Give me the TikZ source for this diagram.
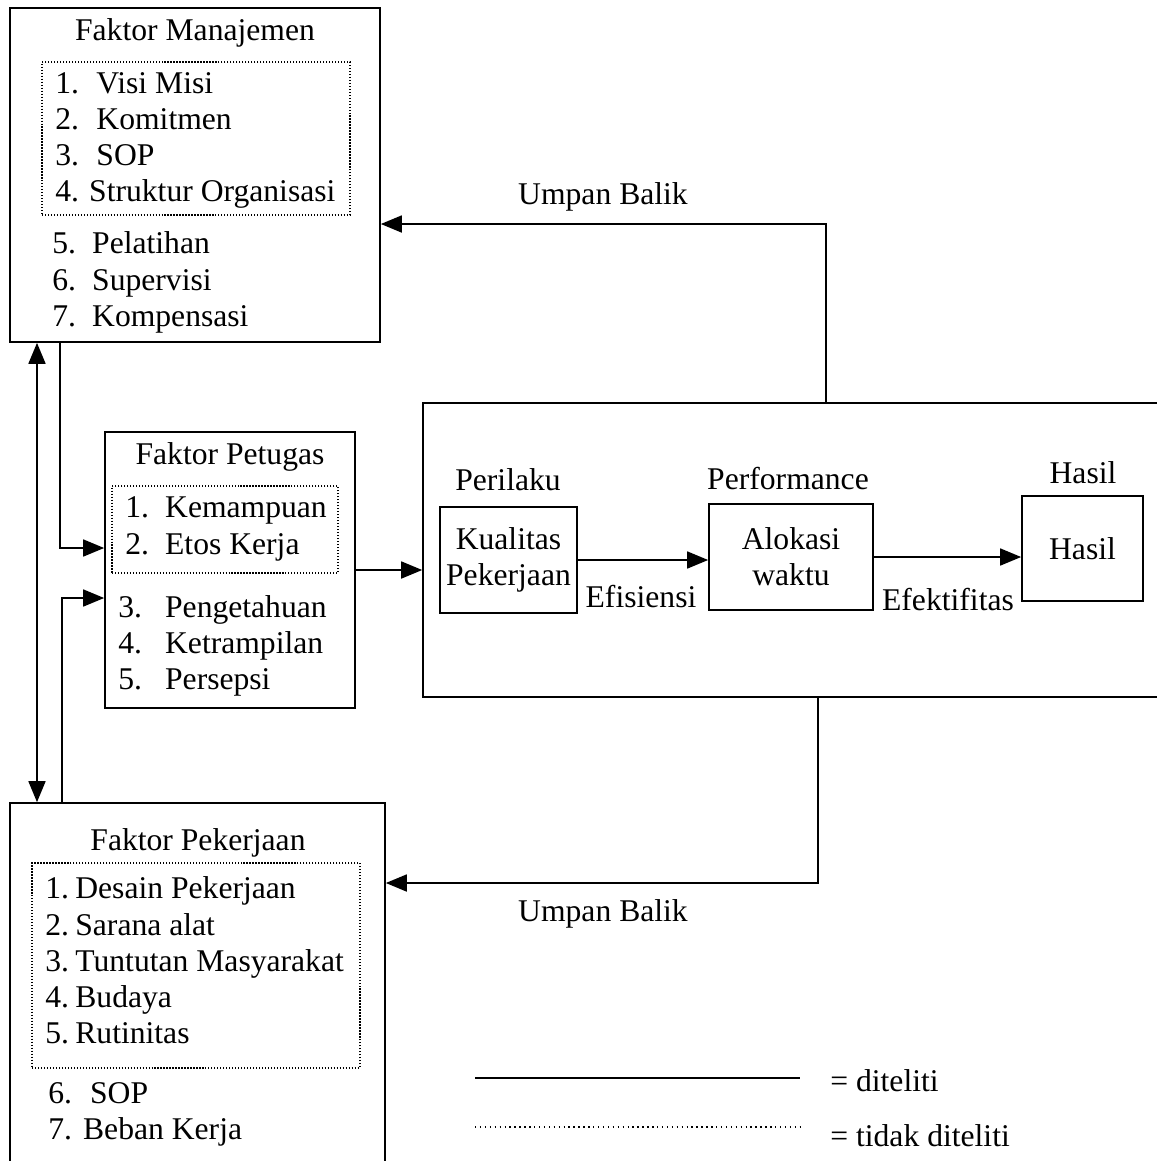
\documentclass[tikz,border=0pt]{standalone}
\usepackage{fontspec}
\setmainfont{Liberation Serif}
\usetikzlibrary{arrows.meta, positioning, calc}
\newcommand{\lnum}[2][1.3em]{\makebox[#1][l]{#2}}

\begin{document}
\begin{tikzpicture}[
  x=0.02cm, y=-0.02cm,
  font=\fontsize{18}{20.6}\selectfont,
  factor/.style={rectangle, draw, line width=1pt, inner sep=0pt},
  subgroup/.style={rectangle, draw, densely dotted, line width=0.7pt, inner sep=0pt},
  stage/.style={rectangle, draw, line width=1pt, align=center,
                minimum height=2.12cm, inner sep=2pt},
  list/.style={anchor=west, align=left, inner sep=0pt, yshift=-0.06cm},
  lbl/.style={inner sep=0pt, yshift=-0.06cm},
  arr/.style={-{Triangle[length=0.42cm, width=0.34cm]}, line width=1pt},
  dblarr/.style={{Triangle[length=0.42cm, width=0.34cm]}-{Triangle[length=0.42cm, width=0.34cm]}, line width=1pt}
]
  \clip (0,0) rectangle (1157,1161);
  \fill[white] (0,0) rectangle (1157,1161);

  % faktor manajemen
  \node[factor, minimum width=7.4cm, minimum height=6.68cm] (mgmt) at (195,175) {};
  \node[lbl] (mgmt-title) at (195,30) {Faktor Manajemen};
  \node[subgroup, minimum width=6.16cm, minimum height=3.06cm] (mgmt-sub) at (196,138.5) {};
  \node[list] (mgmt-in) at (55,137.5) {\lnum{1.}Visi Misi\\ \lnum{2.}Komitmen\\ \lnum{3.}SOP\\ \lnum[1.07em]{4.}Struktur Organisasi};
  \node[list] (mgmt-out) at (52,279.5) {\lnum[1.26em]{5.}Pelatihan\\ \lnum[1.26em]{6.}Supervisi\\ \lnum[1.26em]{7.}Kompensasi};

  % faktor petugas
  \node[factor, minimum width=5cm, minimum height=5.52cm] (pet) at (230,570) {};
  \node[lbl] (pet-title) at (230,454) {Faktor Petugas};
  \node[subgroup, minimum width=4.52cm, minimum height=1.74cm] (pet-sub) at (225,529.5) {};
  \node[list] (pet-in) at (125,526) {\lnum[1.26em]{1.}Kemampuan\\ \lnum[1.26em]{2.}Etos Kerja};
  \node[list] (pet-out) at (118,643) {\lnum[1.48em]{3.}Pengetahuan\\ \lnum[1.48em]{4.}Ketrampilan\\ \lnum[1.48em]{5.}Persepsi};

  % faktor pekerjaan
  \node[factor, minimum width=7.5cm, minimum height=7.54cm] (pek) at (197.5,991.5) {};
  \node[lbl] (pek-title) at (198,840) {Faktor Pekerjaan};
  \node[subgroup, minimum width=6.56cm, minimum height=4.1cm] (pek-sub) at (196,965.5) {};
  \node[list] (pek-in) at (45,957.5) {\lnum[0.95em]{1.}Desain Pekerjaan\\ \lnum[0.95em]{2.}Sarana alat\\ \lnum[0.95em]{3.}Tuntutan Masyarakat\\ \lnum[0.95em]{4.}Budaya\\ \lnum[0.95em]{5.}Rutinitas};
  \node[list] (pek-out) at (48,1111.5) {\lnum[1.32em]{6.}SOP\\ \lnum[1.1em]{7.}Beban Kerja};

  % proses
  \node[factor, minimum width=15.04cm, minimum height=5.88cm] (proc) at (799,550) {};
  \node[stage, minimum width=2.74cm] (kual) at (508.5,560) {Kualitas\\Pekerjaan};
  \node[stage, minimum width=3.28cm] (alok) at (791,557) {Alokasi\\waktu};
  \node[stage, minimum width=2.42cm, minimum height=2.1cm] (hasil) at (1082.5,548.5) {Hasil};
  \node[lbl] (perilaku) at (508,477) {Perilaku};
  \node[lbl] (perf) at (788,476) {Performance};
  \node[lbl] (hasil-lbl) at (1083,470) {Hasil};
  \node[lbl] (efis) at (641,594) {Efisiensi};
  \node[lbl] (efek) at (948,597) {Efektifitas};
  \node[lbl] (fb-top-lbl) at (603,194) {Umpan Balik};
  \node[lbl] (fb-bot-lbl) at (603,911) {Umpan Balik};

  \coordinate (fbtop) at (826,224);
  \coordinate (fbbot) at (818,883);
  \coordinate (m2p) at (60,548);
  \coordinate (k2p) at (62,598);
  \coordinate (link) at (37,0);

  \draw[arr] (pet.east) -- (pet.east -| proc.west);
  \draw[arr] (kual.east) -- (kual.east -| alok.west);
  \draw[arr] (alok.east) -- (alok.east -| hasil.west);
  \draw[arr] (proc.north -| fbtop) |- (mgmt.east |- fbtop);
  \draw[arr] (proc.south -| fbbot) |- (pek.east |- fbbot);
  \draw[arr] (mgmt.south -| m2p) |- (pet.west |- m2p);
  \draw[arr] (pek.north -| k2p) |- (pet.west |- k2p);
  \draw[dblarr] (mgmt.south -| link) -- (pek.north -| link);

  % keterangan
  \coordinate (key1a) at (475,1078);
  \coordinate (key1b) at (800,1078);
  \coordinate (key2a) at (475,1127);
  \coordinate (key2b) at (800,1127);
  \draw[line width=1pt] (key1a) -- (key1b);
  \draw[dotted, line width=0.8pt] (key2a) -- (key2b);
  \node[lbl, anchor=west] (key-solid) at (830,1078) {= diteliti};
  \node[lbl, anchor=west] (key-dot) at (830,1133) {= tidak diteliti};
\end{tikzpicture}
\end{document}
